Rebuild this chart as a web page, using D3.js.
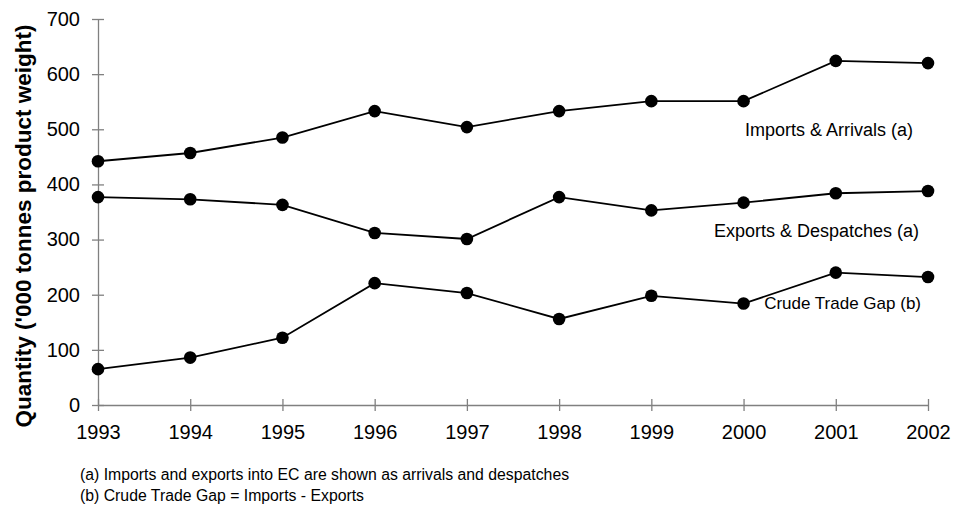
<!DOCTYPE html>
<html lang="en">
<head>
  <meta charset="UTF-8">
  <title>Imports, Exports and Crude Trade Gap</title>
  <script src="https://d3js.org/d3.v7.min.js"></script>
  <style>
    body { margin: 0; background: #fff; font-family: "Liberation Sans", Arial, sans-serif; }
    svg text { fill: #000; }
  </style>
</head>
<body>
  <svg id="chart" width="962" height="506"></svg>
  <script>
    // data
    const years = [1993, 1994, 1995, 1996, 1997, 1998, 1999, 2000, 2001, 2002];
    const imports = [442, 457, 485, 533, 504, 533, 551, 551, 624, 620];
    const exports = [377, 373, 363, 312, 301, 377, 353, 367, 384, 388];
    const tradeGap = [65, 86, 122, 221, 203, 156, 198, 184, 240, 232];
    const seriesNames = ["Imports & Arrivals (a)", "Exports & Despatches (a)", "Crude Trade Gap (b)"];
    const yTicks = [0, 100, 200, 300, 400, 500, 600, 700];
    const notes = [
      "(a) Imports and exports into EC are shown as arrivals and despatches",
      "(b) Crude Trade Gap = Imports - Exports"
    ];

    const svg = d3.select("#chart");
    const x = d3.scaleLinear().domain([1993, 2002]).range([98, 928]);
    const y = d3.scaleLinear().domain([0, 700]).range([405, 19]);
    const axisColor = "#808080";
    const font = "Liberation Sans, Arial, sans-serif";

    // y axis, ticks cross the line
    const yAxis = svg.append("g").attr("transform", "translate(98,0)")
      .call(d3.axisLeft(y).tickValues(yTicks).tickSize(0).tickPadding(18));
    yAxis.select(".domain").attr("stroke", axisColor).attr("stroke-width", 1.3);
    yAxis.selectAll(".tick text").attr("font-size", 20).attr("font-family", font);
    yAxis.selectAll(".tick").append("line")
      .attr("x1", -6).attr("x2", 6).attr("stroke", axisColor).attr("stroke-width", 1.3);

    // x axis
    const xAxis = svg.append("g").attr("transform", "translate(0,405)")
      .call(d3.axisBottom(x).tickValues(years).tickFormat(d3.format("d")).tickSize(0).tickPadding(20));
    xAxis.select(".domain").attr("stroke", axisColor).attr("stroke-width", 1.3);
    xAxis.selectAll(".tick text").attr("font-size", 20).attr("font-family", font);
    xAxis.selectAll(".tick").append("line")
      .attr("y1", -6).attr("y2", 6).attr("stroke", axisColor).attr("stroke-width", 1.3);

    // y axis title
    svg.append("text")
      .attr("transform", "translate(31,226) rotate(-90)")
      .attr("text-anchor", "middle")
      .attr("font-size", 22.5)
      .attr("font-weight", "bold")
      .text("Quantity ('000 tonnes product weight)");

    const allSeries = [imports, exports, tradeGap];
    const line = d3.line().x((d, i) => x(years[i])).y(d => y(d));

    allSeries.forEach(vals => {
      svg.append("path").datum(vals)
        .attr("d", line)
        .attr("fill", "none")
        .attr("stroke", "#000")
        .attr("stroke-width", 1.8);
      svg.append("g").selectAll("circle").data(vals).join("circle")
        .attr("cx", (d, i) => x(years[i]))
        .attr("cy", d => y(d))
        .attr("r", 6.3)
        .attr("fill", "#000");
    });

    // series labels, right-aligned
    const labelPos = [[913, 136, 18], [919, 237, 18], [921, 309, 17]];
    seriesNames.forEach((name, i) => {
      svg.append("text")
        .attr("x", labelPos[i][0])
        .attr("y", labelPos[i][1])
        .attr("text-anchor", "end")
        .attr("font-size", labelPos[i][2])
        .text(name);
    });

    // footnotes
    svg.selectAll(".note").data(notes).join("text")
      .attr("class", "note")
      .attr("x", 80)
      .attr("y", (d, i) => 480 + i * 21)
      .attr("font-size", 15.8)
      .text(d => d);
  </script>
</body>
</html>
